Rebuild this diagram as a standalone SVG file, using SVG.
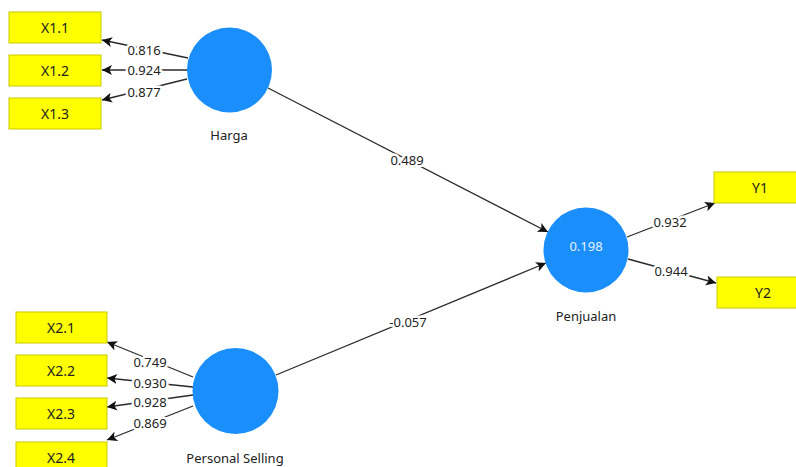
<svg xmlns="http://www.w3.org/2000/svg" width="796" height="467" viewBox="0 0 796 467">
<defs>
<marker id="arr" markerUnits="userSpaceOnUse" markerWidth="11" markerHeight="11" refX="10" refY="5" orient="auto">
<path d="M0,0 L10,5 L0,10 L2.5,5 z" fill="#111"/>
</marker>
<style>
.box rect{fill:#FFFF00;stroke:#C9C900;stroke-width:1}
.box text{font-family:"Noto Sans","Liberation Sans",sans-serif;font-size:14px;fill:#222;text-anchor:middle}
.lv circle{fill:#1A8FFB}
.lv text{font-family:"Noto Sans","Liberation Sans",sans-serif;font-size:13px;fill:#222;text-anchor:middle}
.lv text.in{fill:#E6F2FF}
.edge line{stroke:#2a2a2a;stroke-width:1.3;marker-end:url(#arr)}
.edge text{font-family:"Noto Sans","Liberation Sans",sans-serif;font-size:13px;fill:#222;text-anchor:middle;stroke:#fff;stroke-width:5;stroke-linejoin:round;paint-order:stroke}
</style>
</defs>
<rect width="796" height="467" fill="#fff"/>
<g id="connectors" class="edge">
<line x1="188" y1="58" x2="102" y2="40"/>
<line x1="188" y1="70" x2="102" y2="70"/>
<line x1="187" y1="79" x2="102" y2="100"/>
<line x1="193" y1="377" x2="107" y2="342"/>
<line x1="193" y1="387" x2="107" y2="378"/>
<line x1="193" y1="395" x2="107" y2="407"/>
<line x1="193" y1="406" x2="107" y2="440"/>
<line x1="627" y1="237" x2="715" y2="203"/>
<line x1="628" y1="259" x2="716" y2="283"/>
<line x1="268" y1="88" x2="548" y2="232"/>
<line x1="276" y1="375" x2="546" y2="263"/>
<text x="144" y="55">0.816</text>
<text x="144" y="75">0.924</text>
<text x="144" y="97">0.877</text>
<text x="150" y="367">0.749</text>
<text x="150" y="388">0.930</text>
<text x="150" y="407">0.928</text>
<text x="150" y="428">0.869</text>
<text x="670" y="227">0.932</text>
<text x="671" y="276">0.944</text>
<text x="407" y="165">0.489</text>
<text x="408" y="327">-0.057</text>
</g>
<g id="X1.1" class="box"><rect x="9" y="12" width="92" height="31"/><text x="55" y="33">X1.1</text></g>
<g id="X1.2" class="box"><rect x="9" y="55" width="92" height="31"/><text x="55" y="76">X1.2</text></g>
<g id="X1.3" class="box"><rect x="9" y="98" width="92" height="31"/><text x="55" y="119">X1.3</text></g>
<g id="X2.1" class="box"><rect x="16" y="312" width="91" height="31"/><text x="61" y="333">X2.1</text></g>
<g id="X2.2" class="box"><rect x="16" y="355" width="91" height="31"/><text x="61" y="376">X2.2</text></g>
<g id="X2.3" class="box"><rect x="16" y="398" width="91" height="31"/><text x="61" y="419">X2.3</text></g>
<g id="X2.4" class="box"><rect x="16" y="442" width="91" height="31"/><text x="61" y="463">X2.4</text></g>
<g id="Y1" class="box"><rect x="714" y="172" width="92" height="31"/><text x="760" y="193">Y1</text></g>
<g id="Y2" class="box"><rect x="717" y="277" width="92" height="31"/><text x="763" y="298">Y2</text></g>
<g id="Harga" class="lv"><circle cx="229.5" cy="70" r="42.5"/><text x="229" y="140">Harga</text></g>
<g id="PersonalSelling" class="lv"><circle cx="235.5" cy="391" r="43"/><text x="235" y="463">Personal Selling</text></g>
<g id="Penjualan" class="lv"><circle cx="586" cy="250" r="42.5"/><text class="in" x="586" y="251">0.198</text><text x="586" y="321">Penjualan</text></g>
</svg>
